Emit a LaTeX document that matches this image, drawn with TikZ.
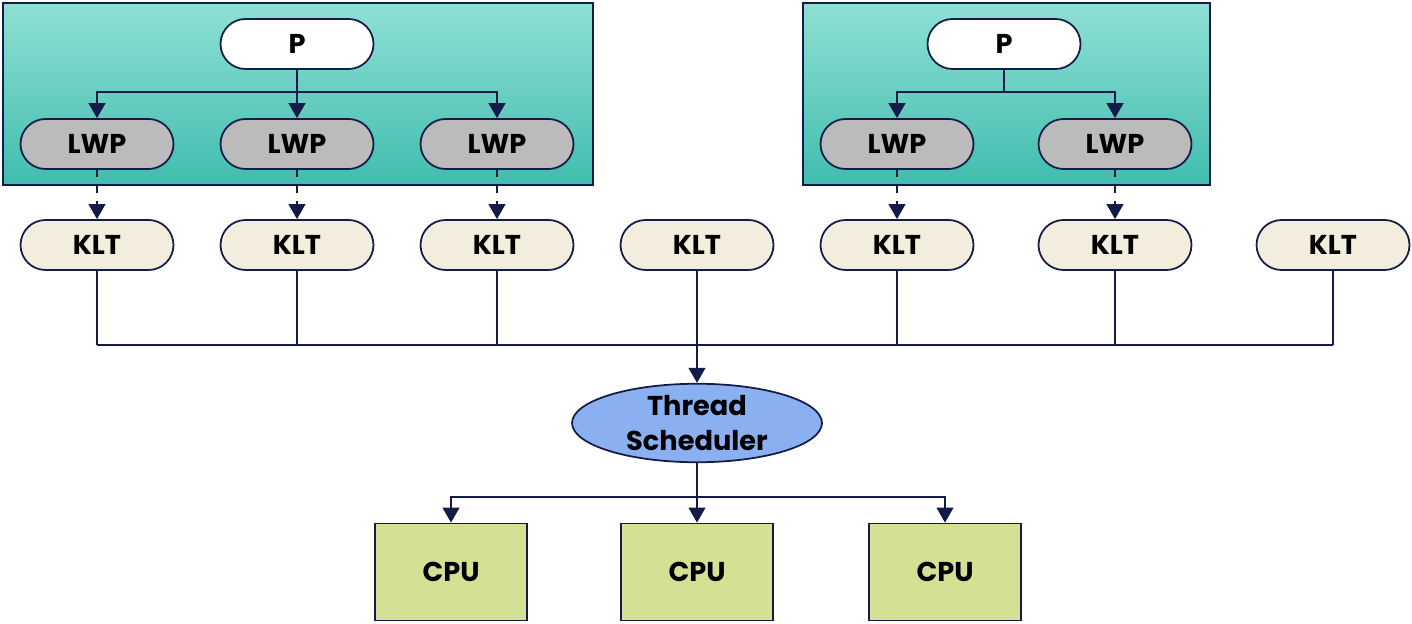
\documentclass[tikz,border=0pt]{standalone}
\usepackage{fontspec}
\setmainfont{Poppins}
\usetikzlibrary{arrows.meta,shapes.geometric}
\definecolor{navy}{HTML}{141B48}
\definecolor{lwpgray}{HTML}{BBBBBB}
\definecolor{kltbeige}{HTML}{F2EDDC}
\definecolor{schedblue}{HTML}{8AB0F2}
\definecolor{cpugreen}{HTML}{D4E093}
\definecolor{tealtop}{HTML}{8FE0D5}
\definecolor{tealmid}{HTML}{4AD5C5}
\definecolor{tealbot}{HTML}{40BDAE}

\begin{document}
\begin{tikzpicture}[x=0.02cm,y=-0.02cm,>={Triangle[length=8.5pt,width=9.5pt]},
  font=\fontsize{15.5}{17}\selectfont\bfseries,
  pill/.style={draw=navy,line width=1pt,rounded corners=0.5cm,minimum width=3.06cm,minimum height=1cm},
  pnode/.style={pill,fill=white},
  lwp/.style={pill,fill=lwpgray},
  klt/.style={pill,fill=kltbeige},
  cpu/.style={draw=navy,line width=1pt,fill=cpugreen,minimum width=3.04cm,minimum height=1.94cm},
  procbox/.style={draw=navy,line width=1.4pt,top color=tealtop,middle color=tealmid,bottom color=tealbot,minimum height=3.64cm},
  link/.style={navy,line width=1pt}]
\useasboundingbox (0,0) rectangle (1412,624);
% process boxes
\node[procbox,minimum width=11.8cm] (proc1) at (298,94) {};
\node[procbox,minimum width=8.14cm] (proc2) at (1006.5,94) {};
% processes
\node[pnode] (p1) at (297,44) {P};
\node[pnode] (p2) at (1004,44) {P};
% light weight processes
\node[lwp] (l1) at (97,144) {LWP};
\node[lwp] (l2) at (297,144) {LWP};
\node[lwp] (l3) at (497,144) {LWP};
\node[lwp] (l4) at (897,144) {LWP};
\node[lwp] (l5) at (1115,144) {LWP};
% kernel level threads
\node[klt] (k1) at (97,245) {KLT};
\node[klt] (k2) at (297,245) {KLT};
\node[klt] (k3) at (497,245) {KLT};
\node[klt] (k4) at (697,245) {KLT};
\node[klt] (k5) at (897,245) {KLT};
\node[klt] (k6) at (1115,245) {KLT};
\node[klt] (k7) at (1333,245) {KLT};
% scheduler and cpus
\node[ellipse,draw=navy,line width=1pt,fill=schedblue,minimum width=5cm,minimum height=1.54cm,align=center,inner sep=0pt] (sched) at (697,423) {Thread\\[3pt]Scheduler};
\node[cpu] (c1) at (451,572) {CPU};
\node[cpu] (c2) at (697,572) {CPU};
\node[cpu] (c3) at (945,572) {CPU};
% P -> LWP
\coordinate (pb1) at (297,92);
\coordinate (pb2) at (1004,92);
\draw[link,->] (p1.south) -- (pb1) -| (l1.north);
\draw[link,->] (p1.south) -- (l2.north);
\draw[link,->] (pb1) -| (l3.north);
\draw[link,->] (p2.south) -- (pb2) -| (l4.north);
\draw[link,->] (pb2) -| (l5.north);
% LWP -> KLT
\foreach \a/\b in {l1/k1,l2/k2,l3/k3,l4/k5,l5/k6}
  \draw[link,->,dash pattern=on 4pt off 5pt] (\a.south) -- (\b.north);
% KLT -> scheduler
\coordinate (busL) at (97,345);
\coordinate (busR) at (1333,345);
\draw[link] (busL) -- (busR);
\foreach \k in {k1,k2,k3,k5,k6,k7}
  \draw[link] (\k.south) -- (\k.south |- busL);
\draw[link,->] (k4.south) -- (sched.north);
% scheduler -> CPU
\coordinate (cbus) at (697,497);
\draw[link,->] (sched.south) -- (cbus) -| (c1.north);
\draw[link,->] (sched.south) -- (c2.north);
\draw[link,->] (cbus) -| (c3.north);
\end{tikzpicture}
\end{document}
